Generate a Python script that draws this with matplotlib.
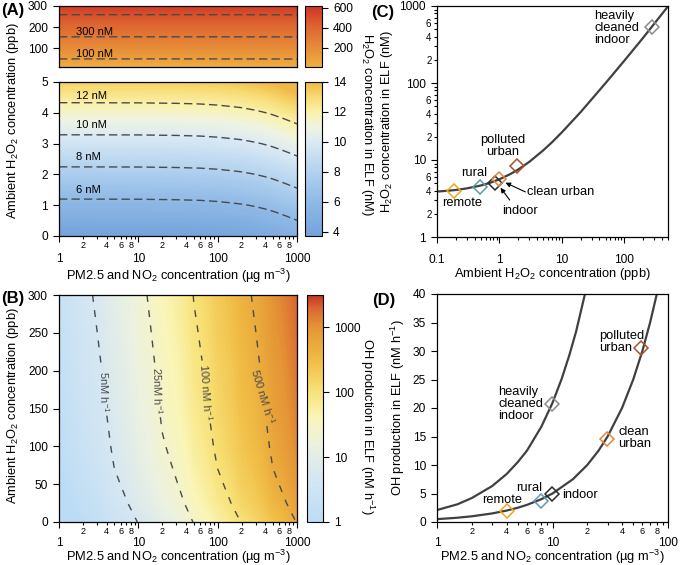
import numpy as np
import matplotlib
matplotlib.use("Agg")
import matplotlib.pyplot as plt
from matplotlib import ticker
from matplotlib.colors import LinearSegmentedColormap, Normalize, LogNorm
from matplotlib.cm import ScalarMappable

plt.rcParams['font.family'] = ['Liberation Sans', 'DejaVu Sans']
plt.rcParams['mathtext.fontset'] = 'custom'
plt.rcParams['mathtext.rm'] = 'Liberation Sans'
plt.rcParams['mathtext.it'] = 'Liberation Sans:italic'
plt.rcParams['mathtext.default'] = 'regular'

# ---- data ----
# panel A: H2O2 in ELF (nM) vs ambient H2O2 (ppb) and PM (ug m-3)
pm_cols = [1, 10, 30, 60, 100, 150, 200, 300, 400, 500, 700, 1000]
elf_pm_gain = [0, 0.01, 0.04, 0.08, 0.15, 0.24, 0.31, 0.47, 0.62, 0.76, 1.02, 1.32]
h2o2_low = [0, 1, 2, 3, 4, 5]
elf_low = [3.70, 5.62, 7.53, 9.45, 11.37, 13.29]
h2o2_high = [12, 100, 200, 300]
elf_high = [26.7, 195.4, 387.1, 578.8]
elf_levels_low = [6, 8, 10, 12]
elf_levels_high = [100, 300, 500]

# panel B: OH production (nM h-1) per unit PM at each ambient H2O2 level
pm_cols_b = [1, 2, 5, 10, 20, 50, 100, 200, 500, 1000]
h2o2_b = [0, 25, 50, 75, 100, 150, 200, 250, 300]
oh_per_pm = [0.52, 0.72, 0.88, 1.03, 1.17, 1.40, 1.60, 1.82, 2.05]
oh_levels = [5, 25, 100, 500]
oh_level_names = ['5nM h$^{-1}$', '25nM h$^{-1}$', '100 nM h$^{-1}$', '500 nM h$^{-1}$']

# panel C: ELF H2O2 vs ambient H2O2
amb_c = [0.1, 0.15, 0.2, 0.3, 0.5, 0.7, 1, 1.5, 2, 3, 5, 7, 10, 20, 50, 100, 200, 500]
elf_c = [3.89, 3.99, 4.08, 4.28, 4.66, 5.04, 5.62, 6.58, 7.53, 9.45, 13.3, 17.1,
         22.9, 42.0, 99.6, 195, 387, 990]

# environments
env_names = ['remote', 'rural', 'indoor', 'clean urban', 'polluted urban', 'heavily cleaned indoor']
env_colors = ['#f0a51c', '#5e9bb0', '#2a2a2a', '#e8843a', '#a8532a', '#8c8c8c']
env_h2o2 = [0.19, 0.49, 0.86, 0.98, 1.94, 275]
env_elf = [3.99, 4.5, 5.07, 5.6, 8.4, 540]
env_pm = [4.0, 7.95, 9.97, 29.4, 58.9, 9.84]
env_oh = [1.9, 3.74, 4.9, 14.6, 30.5, 20.7]

# panel D: OH production vs PM for low and high ambient H2O2
pm_lo = [1, 1.5, 2, 3, 4, 5, 6, 8, 10, 15, 20, 25, 30, 40, 50, 60, 70, 80]
oh_lo = [0.5, 0.75, 1.0, 1.5, 2.0, 2.5, 3.0, 4.0, 5.0, 7.5, 10, 12.5, 15, 20, 25, 30, 35, 40]
pm_hi = [1, 1.5, 2, 3, 4, 5, 6, 8, 10, 12, 14, 16, 19.1]
oh_hi = [2.1, 3.1, 4.2, 6.3, 8.4, 10.5, 12.5, 16.7, 20.9, 25.1, 29.3, 33.4, 40]

# ---- colour maps ----
cmap_low = LinearSegmentedColormap.from_list('low', [
    (0.0, '#74a3db'), (0.22, '#8fb9e6'), (0.416, '#b2d2ef'), (0.61, '#dbe9f4'),
    (0.71, '#eff4e2'), (0.80, '#faf2ae'), (0.90, '#f7dc74'), (1.0, '#f0b845')])
cmap_high = LinearSegmentedColormap.from_list('high', [
    (0.0, '#f0b040'), (0.33, '#e68a38'), (0.66, '#dd6630'), (1.0, '#cf3326')])
cmap_oh = LinearSegmentedColormap.from_list('oh', [
    (0.0, '#bcdcf5'), (0.2, '#d6e7f2'), (0.34, '#ecf1e0'), (0.46, '#faf5b8'),
    (0.57, '#f8e37a'), (0.71, '#f0bd45'), (0.857, '#e59535'), (0.94, '#d86a30'),
    (1.0, '#c83525')])

MAIN = 8.6
LABEL = 9.25
MINOR = 6.5
W, H = 680, 565

fig = plt.figure(figsize=(6.8, 5.65), dpi=100)


def px_axes(l, t, r, b):
    return fig.add_axes([l / W, 1 - b / H, (r - l) / W, (b - t) / H])


def minor_fmt(v, pos):
    m = int(round(v / 10 ** np.floor(np.log10(v) + 1e-9)))
    return str(m) if m in (2, 4, 6, 8) else ''


def log_x(ax, minor_labels=True, pad=8.0):
    ax.set_xscale('log')
    ax.xaxis.set_major_locator(ticker.LogLocator(base=10))
    ax.xaxis.set_major_formatter(ticker.FuncFormatter(lambda v, p: '%g' % v))
    ax.xaxis.set_minor_locator(ticker.LogLocator(base=10, subs=np.arange(2, 10)))
    if minor_labels:
        ax.xaxis.set_minor_formatter(ticker.FuncFormatter(minor_fmt))
    else:
        ax.xaxis.set_minor_formatter(ticker.NullFormatter())
    ax.tick_params(axis='x', which='major', pad=pad)
    ax.tick_params(axis='x', which='minor', pad=1.0)


def style(ax):
    ax.tick_params(which='both', direction='out', width=0.8, labelsize=MAIN)
    ax.tick_params(which='major', length=4.5)
    ax.tick_params(which='minor', length=2.5)
    ax.tick_params(axis='x', which='minor', labelsize=MINOR)
    for s in ax.spines.values():
        s.set_linewidth(0.9)


dash_a = [(0, (6, 3))]
dash_b = [(0, (5, 6))]
line_col = '#4a4a4a'

# ---- panel A top ----
gain = np.array(elf_pm_gain)
ax_at = px_axes(59, 6, 297, 67)
z_top = np.array(elf_high)[:, None] + gain[None, :]
ax_at.contourf(pm_cols, h2o2_high, z_top, levels=np.linspace(10, 620, 150),
               cmap=cmap_high, norm=Normalize(10, 620))
ax_at.contour(pm_cols, h2o2_high, z_top, levels=elf_levels_high, colors=line_col,
              linewidths=1.0, linestyles=dash_a)
log_x(ax_at)
ax_at.set_xlim(1, 1000)
ax_at.set_ylim(12, 300)
ax_at.set_yticks([100, 200, 300])
style(ax_at)
ax_at.tick_params(axis='x', which='both', bottom=False, labelbottom=False)
ax_at.text(1.66, 178, '300 nM', fontsize=8, va='center')
ax_at.text(1.66, 75, '100 nM', fontsize=8, va='center')

# ---- panel A bottom ----
ax_ab = px_axes(59, 82, 297, 236)
z_low = np.array(elf_low)[:, None] + gain[None, :]
ax_ab.contourf(pm_cols, h2o2_low, z_low, levels=np.linspace(3.6, 14.8, 150),
               cmap=cmap_low, norm=Normalize(3.7, 14))
ax_ab.contour(pm_cols, h2o2_low, z_low, levels=elf_levels_low, colors=line_col,
              linewidths=1.0, linestyles=dash_a)
log_x(ax_ab)
ax_ab.set_xlim(1, 1000)
ax_ab.set_ylim(0, 5)
ax_ab.set_yticks(range(6))
style(ax_ab)
for lev, yy in zip(elf_levels_low, [1.5, 2.55, 3.6, 4.55]):
    ax_ab.text(1.66, yy, '%d nM' % lev, fontsize=8, va='center')
ax_ab.set_xlabel('PM2.5 and NO$_2$ concentration (µg m$^{-3}$)', fontsize=LABEL, labelpad=1)

# colorbars A
cax1 = px_axes(305, 6, 322, 67)
cb1 = fig.colorbar(ScalarMappable(Normalize(10, 620), cmap_high), cax=cax1)
cb1.set_ticks([200, 400, 600])
cax2 = px_axes(305, 82, 322, 236)
cb2 = fig.colorbar(ScalarMappable(Normalize(3.7, 14), cmap_low), cax=cax2)
cb2.set_ticks([4, 6, 8, 10, 12, 14])
for cb in (cb1, cb2):
    cb.ax.tick_params(labelsize=MAIN, length=4.5, width=0.8)
    cb.outline.set_linewidth(0.8)
    cb.ax.minorticks_off()

fig.text(13 / W, 1 - 121 / H, 'Ambient H$_2$O$_2$ concentration (ppb)', rotation=90,
         ha='center', va='center', fontsize=LABEL)
fig.text(367 / W, 1 - 125 / H, 'H$_2$O$_2$ concentration in ELF (nM)', rotation=270,
         ha='center', va='center', fontsize=LABEL)

# ---- panel B ----
ax_b = px_axes(59, 295, 297, 522)
z_b = np.log10(np.array(oh_per_pm)[:, None] * np.array(pm_cols_b)[None, :])
ax_b.contourf(pm_cols_b, h2o2_b, z_b, levels=np.linspace(-0.4, 3.6, 200),
              cmap=cmap_oh, norm=Normalize(0, 3.5))
cs = ax_b.contour(pm_cols_b, h2o2_b, z_b, levels=np.log10(oh_levels), colors=line_col,
                  linewidths=1.0, linestyles=dash_b)
fmt = {lev: name for lev, name in zip(cs.levels, oh_level_names)}
ax_b.clabel(cs, fmt=fmt, fontsize=8, inline=True, inline_spacing=3,
            manual=[(3.43, 172), (17.8, 174), (84, 172), (418, 170)])
log_x(ax_b, pad=6.0)
ax_b.set_xlim(1, 1000)
ax_b.set_ylim(0, 300)
ax_b.set_yticks(range(0, 301, 50))
style(ax_b)
ax_b.set_xlabel('PM2.5 and NO$_2$ concentration (µg m$^{-3}$)', fontsize=LABEL, labelpad=-0.5)

cax3 = px_axes(307, 295, 323, 522)
cb3 = fig.colorbar(ScalarMappable(LogNorm(1, 10 ** 3.5), cmap_oh), cax=cax3)
cb3.set_ticks([1, 10, 100, 1000])
cb3.ax.yaxis.set_major_formatter(ticker.FuncFormatter(lambda v, p: '%g' % v))
cb3.ax.minorticks_off()
cb3.ax.tick_params(labelsize=MAIN, length=4.5, width=0.8)
cb3.outline.set_linewidth(0.8)

fig.text(13 / W, 1 - 406 / H, 'Ambient H$_2$O$_2$ concentration (ppb)', rotation=90,
         ha='center', va='center', fontsize=LABEL)
fig.text(367 / W, 1 - 426 / H, 'OH production in ELF (nM h$^{-1}$)', rotation=270,
         ha='center', va='center', fontsize=LABEL)

# ---- panel C ----
ax_c = px_axes(437, 6, 668, 237)
ax_c.plot(amb_c, elf_c, color='#404040', lw=1.6, zorder=2)
for x, y, c in zip(env_h2o2, env_elf, env_colors):
    ax_c.plot(x, y, marker='D', ms=7, mfc='none', mec=c, mew=1.1, zorder=3)
ax_c.set_yscale('log')
log_x(ax_c, minor_labels=False, pad=8.0)
ax_c.set_xlim(0.1, 500)
ax_c.set_ylim(1, 1000)
ax_c.yaxis.set_major_formatter(ticker.FuncFormatter(lambda v, p: '%g' % v))
ax_c.yaxis.set_minor_locator(ticker.LogLocator(base=10, subs=np.arange(2, 10)))
ax_c.yaxis.set_minor_formatter(ticker.FuncFormatter(
    lambda v, p: minor_fmt(v, p) if minor_fmt(v, p) in ('2', '4', '6') else ''))
style(ax_c)
ax_c.tick_params(axis='y', which='minor', labelsize=7, pad=1.5)
ax_c.set_xlabel('Ambient H$_2$O$_2$ concentration (ppb)', fontsize=LABEL, labelpad=0)
ax_c.set_ylabel('H$_2$O$_2$ concentration in ELF (nM)', fontsize=LABEL, labelpad=3)

txt = dict(fontsize=LABEL, linespacing=1.0, va='center')
ax_c.text(33, 520, 'heavily\ncleaned\nindoor', ha='left', **txt)
ax_c.text(1.13, 15, 'polluted\nurban', ha='center', **txt)
ax_c.text(0.40, 6.8, 'rural', ha='center', **txt)
ax_c.text(0.25, 2.77, 'remote', ha='center', **txt)
ax_c.text(2.72, 3.84, 'clean urban', ha='left', **txt)
ax_c.text(2.11, 2.2, 'indoor', ha='center', **txt)
arrow = dict(arrowstyle='-|>', color='black', lw=0.8, mutation_scale=7, shrinkA=0, shrinkB=0)
ax_c.annotate('', xy=(1.25, 5.07), xytext=(2.6, 3.85), arrowprops=arrow)
ax_c.annotate('', xy=(1.04, 4.36), xytext=(1.46, 3.02), arrowprops=arrow)

# ---- panel D ----
ax_d = px_axes(437, 294, 668, 522)
ax_d.plot(pm_lo, oh_lo, color='#404040', lw=1.6, zorder=2)
ax_d.plot(pm_hi, oh_hi, color='#404040', lw=1.6, zorder=2)
for x, y, c in zip(env_pm, env_oh, env_colors):
    ax_d.plot(x, y, marker='D', ms=7, mfc='none', mec=c, mew=1.1, zorder=3)
log_x(ax_d, pad=6.0)
ax_d.set_xlim(1, 100)
ax_d.set_ylim(0, 40)
ax_d.set_yticks(range(0, 41, 5))
style(ax_d)
ax_d.set_xlabel('PM2.5 and NO$_2$ concentration (µg m$^{-3}$)', fontsize=LABEL, labelpad=-0.5)
ax_d.set_ylabel('OH production in ELF (nM h$^{-1}$)', fontsize=LABEL, labelpad=4)

ax_d.text(25.4, 31.6, 'polluted\nurban', ha='left', **txt)
ax_d.text(3.41, 20.7, 'heavily\ncleaned\nindoor', ha='left', **txt)
ax_d.text(37, 14.7, 'clean\nurban', ha='left', **txt)
ax_d.text(6.3, 5.96, 'rural', ha='center', **txt)
ax_d.text(3.64, 3.9, 'remote', ha='center', **txt)
ax_d.text(12.0, 4.68, 'indoor', ha='left', **txt)

# panel letters
for x, y, s in [(1, 11, '(A)'), (1, 298, '(B)'), (371, 12, '(C)'), (372, 300, '(D)')]:
    fig.text(x / W, 1 - y / H, s, fontsize=12, fontweight='bold', va='center', ha='left')

fig.savefig('out.png', dpi=100)
